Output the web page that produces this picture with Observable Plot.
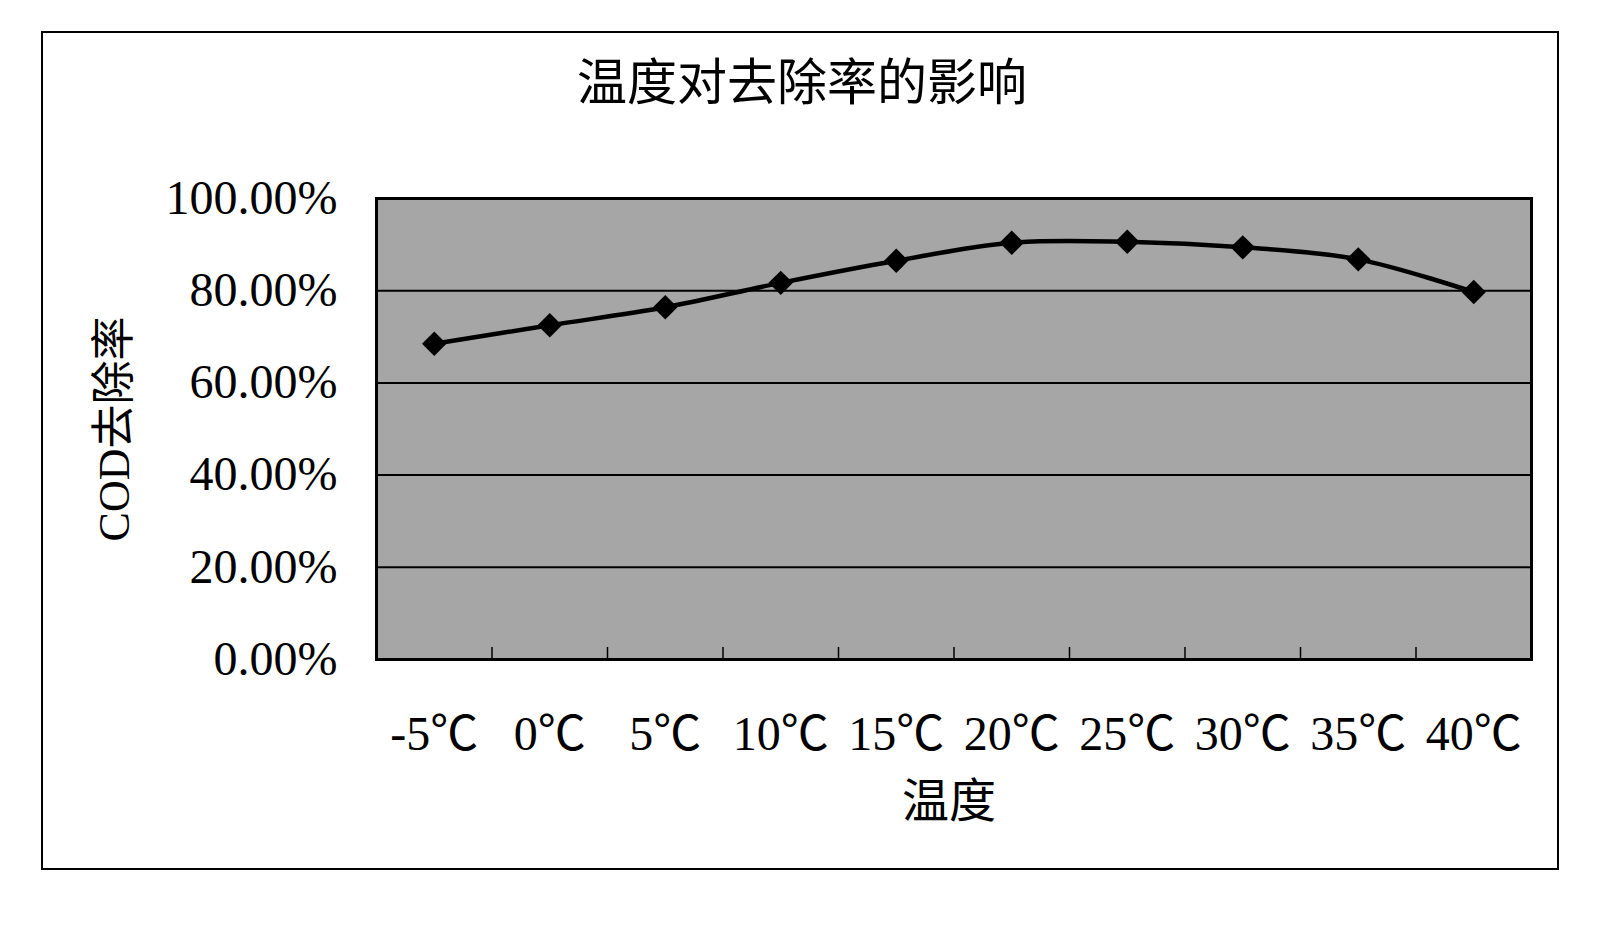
<!DOCTYPE html>
<html>
<head>
<meta charset="utf-8">
<script src="https://cdn.jsdelivr.net/npm/d3@7"></script>
<script src="https://cdn.jsdelivr.net/npm/@observablehq/plot@0.6"></script>
<style>
  html, body { margin: 0; padding: 0; background: #fff; }
  #wrap { position: relative; width: 1624px; height: 929px; }
  #border { position: absolute; left: 41px; top: 31px; width: 1518px; height: 839px;
            border: 2px solid #000; box-sizing: border-box; pointer-events: none; }
</style>
</head>
<body>
<div id="wrap"><div id="border"></div></div>
<script>
const temps = ["-5℃", "0℃", "5℃", "10℃", "15℃", "20℃", "25℃", "30℃", "35℃", "40℃"];
const removal = [68.5, 72.5, 76.4, 81.7, 86.5, 90.4, 90.6, 89.4, 86.8, 79.7];
const yTicks = [0, 20, 40, 60, 80, 100];
const gridValues = [20, 40, 60, 80];
const title = "温度对去除率的影响";
const xLabel = "温度";
const yLabel = "COD去除率";

const data = temps.map((t, i) => ({i, t, v: removal[i]}));
const n = temps.length;
const font = "'Liberation Serif', 'Noto Sans CJK SC', serif";

const chart = Plot.plot({
  width: 1624,
  height: 929,
  marginLeft: 376,
  marginRight: 93,
  marginTop: 198,
  marginBottom: 270,
  style: {fontFamily: font, fontSize: "48px", background: "transparent", color: "#000", overflow: "visible"},
  x: {type: "linear", domain: [-0.5, n - 0.5], ticks: d3.range(n), tickFormat: i => temps[i],
      tickSize: 0, tickPadding: 56, label: null},
  y: {domain: [0, 100], ticks: yTicks, tickFormat: d => d.toFixed(2) + "%",
      tickSize: 0, tickPadding: 39, label: null},
  marks: [
    Plot.frame({fill: "#a6a6a6", stroke: null}),
    Plot.ruleY(gridValues, {stroke: "#000", strokeWidth: 2}),
    Plot.ruleX(d3.range(1, n).map(i => i - 0.5), {y1: 0, y2: 2.6, stroke: "#000", strokeWidth: 1.5}),
    Plot.frame({stroke: "#000", strokeWidth: 3}),
    Plot.line(data, {x: "i", y: "v", curve: "catmull-rom", stroke: "#000", strokeWidth: 4.5}),
    Plot.dot(data, {x: "i", y: "v", symbol: "diamond2", r: 11, fill: "#000", stroke: null}),
    Plot.text([title], {frameAnchor: "top", dy: -115, dx: -152, fontSize: 50,
      fontFamily: "'Noto Sans CJK SC', sans-serif", textAnchor: "middle", lineAnchor: "middle", fill: "#000"}),
    Plot.text([xLabel], {frameAnchor: "bottom", dy: 142, dx: -5, fontSize: 47,
      fontFamily: "'Noto Sans CJK SC', sans-serif", textAnchor: "middle", lineAnchor: "middle", fill: "#000"}),
    Plot.text([yLabel], {frameAnchor: "left", dx: -262, rotate: -90, fontSize: 44,
      fontFamily: font, textAnchor: "middle", lineAnchor: "middle", fill: "#000"})
  ]
});
document.getElementById("wrap").prepend(chart);
</script>
</body>
</html>
